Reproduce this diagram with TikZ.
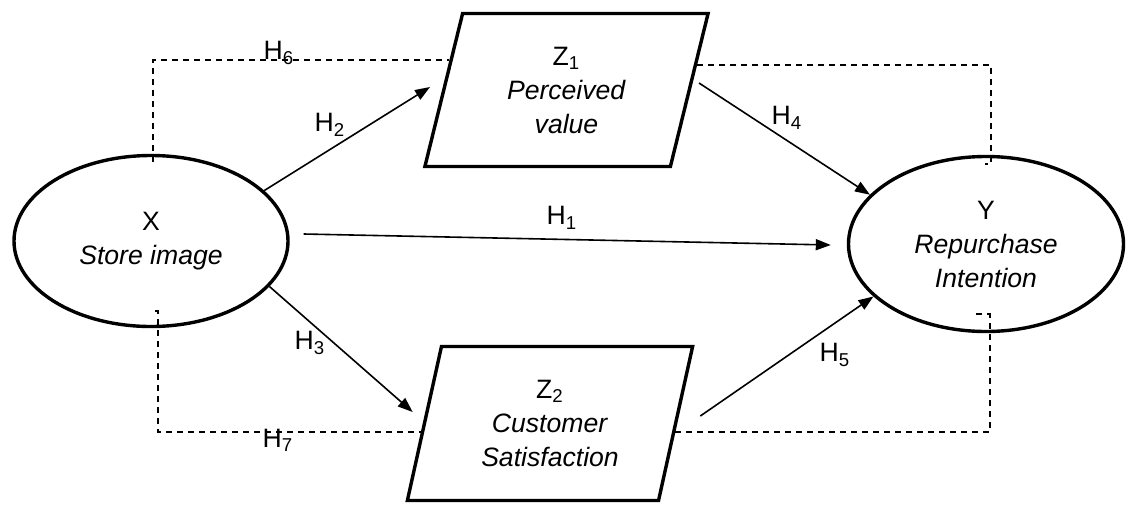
\documentclass[tikz,border=0pt]{standalone}
\usepackage{fontspec}
\setmainfont{Liberation Sans}
\usepackage{tikz}
\usetikzlibrary{shapes.geometric, arrows.meta, calc}

\begin{document}
\begin{tikzpicture}[x=0.5pt, y=-0.5pt,
        latent/.style={ellipse, draw=black, line width=1.7pt, minimum width=137pt,
                    minimum height=85.5pt, align=center, inner sep=0pt,
                    font=\fontsize{13.3}{17}\selectfont},
        medi/.style={trapezium, trapezium left angle=76, trapezium right angle=104,
                     trapezium stretches=true, draw=black, line width=1.7pt,
                     minimum width=142pt, minimum height=76.5pt, align=center,
                     inner sep=0pt, font=\fontsize{13.3}{17}\selectfont},
        arr/.style={-{Triangle[length=7.5pt, width=5.5pt]}, line width=0.8pt},
        hyp/.style={dash pattern=on 3pt off 2.5pt, line width=0.75pt},
        lbl/.style={inner sep=0pt, font=\fontsize{13.3}{15}\selectfont}
    ]
    \useasboundingbox (0,0) rectangle (1128,504);

    \node[latent] (X)  at (151,241)    {X\\\textit{Store image}};
    \node[latent, minimum width=137.5pt, minimum height=87.5pt]
                  (Y)  at (986,244)    {Y\\\textit{Repurchase}\\\textit{Intention}};
    \node[medi]   (Z1) at (566.5,90)   {Z\textsubscript{1}\\\textit{Perceived}\\\textit{value}};
    \node[medi, minimum width=143.5pt, minimum height=77pt]
                  (Z2) at (550,423.5)  {Z\textsubscript{2}\\\textit{Customer}\\\textit{Satisfaction}};

    \draw[hyp] ($(X.north)+(2,8)$) |- ($(Z1.left side)+(7,-30)$);
    \draw[hyp] ($(Z1.right side)+(6,-25)$) -| ($(Y.north)+(5,9)$) -- ++(-6,0);
    \draw[hyp] ($(X.south)+(4,-17)$) -- ++(3,0) |- ($(Z2.left side)+(-2,8.5)$);
    \draw[hyp] ($(Z2.right side)+(-2,8.5)$) -| ($(Y.south)+(4,-19)$) -- ++(-15,0);

    \draw[arr] (X.24) -- ($(Z1.left side)+(-12,-3)$);
    \draw[arr] ($(X.east)+(14,-7)$) -- ($(Y.west)+(-16,1)$);
    \draw[arr] (X.339) -- ($(Z2.left side)+(-10,-11.5)$);
    \draw[arr] ($(Z1.right side)+(8,-7)$) -- (Y.157);
    \draw[arr] ($(Z2.right side)+(23,-7.5)$) -- (Y.205);

    \node[lbl] (h1) at (562,218) {H\textsubscript{1}};
    \node[lbl] (h2) at (330,125) {H\textsubscript{2}};
    \node[lbl] (h3) at (310,343) {H\textsubscript{3}};
    \node[lbl] (h4) at (787,118) {H\textsubscript{4}};
    \node[lbl] (h5) at (835,355) {H\textsubscript{5}};
    \node[lbl] (h6) at (279,53)  {H\textsubscript{6}};
    \node[lbl] (h7) at (278,440) {H\textsubscript{7}};
\end{tikzpicture}
\end{document}
